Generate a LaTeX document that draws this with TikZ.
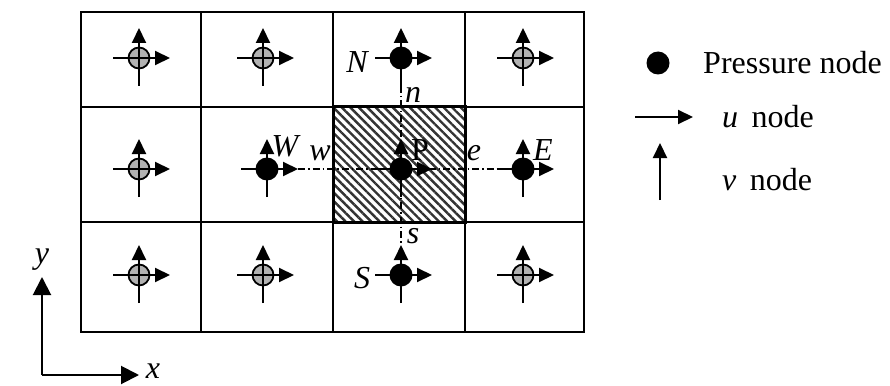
\documentclass[tikz,border=0pt]{standalone}
\usepackage{fontspec}
\setmainfont{Liberation Serif}
\usetikzlibrary{arrows.meta,patterns.meta}
\tikzset{
  gridline/.style={line width=1.6pt},
  crossline/.style={line width=2pt,-{Triangle[length=15pt,width=14pt]}},
  graydot/.style={circle,draw,line width=1.8pt,fill=black!30,minimum size=21pt,inner sep=0pt},
  blackdot/.style={circle,fill=black,minimum size=23pt,inner sep=0pt},
  dashdot/.style={line width=1.4pt,dash pattern=on 7pt off 3pt on 1.5pt off 3pt},
  lbl/.style={font=\fontsize{32}{36}\selectfont\itshape,inner sep=0pt},
  rlbl/.style={font=\fontsize{32}{36}\selectfont,inner sep=0pt},
  axisline/.style={line width=2pt,-{Triangle[length=18pt,width=18pt]}},
}
\newcommand\velcross[4]{%
  \coordinate (#1) at (#2,#3);
  \path (#1) ++(-26,0) coordinate (#1-l);
  \path (#1) ++(31,0) coordinate (#1-r);
  \path (#1) ++(0,28) coordinate (#1-b);
  \path (#1) ++(0,-30) coordinate (#1-t);
  \node[#4] (#1-c) at (#1) {};
  \draw[crossline] (#1-l) -- (#1-r);
  \draw[crossline] (#1-b) -- (#1-t);
}
\begin{document}
\begin{tikzpicture}[x=1pt,y=-1pt]
\useasboundingbox (0,0) rectangle (890,385);
% hatched control volume
\fill[pattern={Lines[angle=-45,distance=6pt,line width=2.4pt]},pattern color=black!80] (333,107) rectangle (465,222);
% grid
\draw[gridline] (81,12) rectangle (584,332);
\foreach \xx in {201,333,465} \draw[gridline] (\xx,12) -- (\xx,332);
\foreach \yy in {107,222} \draw[gridline] (81,\yy) -- (584,\yy);
\draw[line width=3pt] (333,107) rectangle (465,222);
% crosses
\velcross{a1}{139}{58}{graydot}
\velcross{a2}{263}{58}{graydot}
\velcross{Nn}{401}{58}{blackdot}
\velcross{a4}{523}{58}{graydot}
\velcross{b1}{139}{169}{graydot}
\velcross{Ww}{267}{169}{blackdot}
\velcross{Pp}{401}{169}{blackdot}
\velcross{Ee}{523}{169}{blackdot}
\velcross{c1}{139}{275}{graydot}
\velcross{c2}{263}{275}{graydot}
\velcross{Ss}{401}{275}{blackdot}
\velcross{c4}{523}{275}{graydot}
% dash-dot lines
\draw[dashdot] (Ww-r) -- (Ee-l);
\draw[dashdot] (Nn-b) -- (Ss-t);
% labels
\node[lbl] (lN) at (357,62) {N};
\node[lbl] (ln) at (413,95) {n};
\node[lbl] (lW) at (285,146) {W};
\node[lbl] (lw) at (320,153) {w};
\node[rlbl] (lP) at (420,150) {P};
\node[lbl] (le) at (474,153) {e};
\node[lbl] (lE) at (543,150) {E};
\node[lbl] (ls) at (413,236) {s};
\node[lbl] (lS) at (362,278) {S};
% legend
\node[blackdot] (legdot) at (658,63) {};
\node[rlbl,anchor=west] (legp) at (703,63) {Pressure node};
\coordinate (legu1) at (635,117);
\coordinate (legu2) at (693,117);
\draw[crossline] (legu1) -- (legu2);
\node[rlbl,anchor=west] (legu) at (722,117) {\textit{u}\, node};
\coordinate (legv1) at (660,200);
\coordinate (legv2) at (660,143);
\draw[crossline] (legv1) -- (legv2);
\node[rlbl,anchor=west] (legv) at (722,180) {\textit{v}\, node};
% axes
\coordinate (org) at (42,375);
\coordinate (ytip) at (42,277);
\coordinate (xtip) at (139,375);
\draw[axisline] (org) -- (ytip);
\draw[axisline] (org) -- (xtip);
\node[lbl] (ly) at (42,260) {y};
\node[lbl] (lx) at (153,371) {x};
\end{tikzpicture}
\end{document}
